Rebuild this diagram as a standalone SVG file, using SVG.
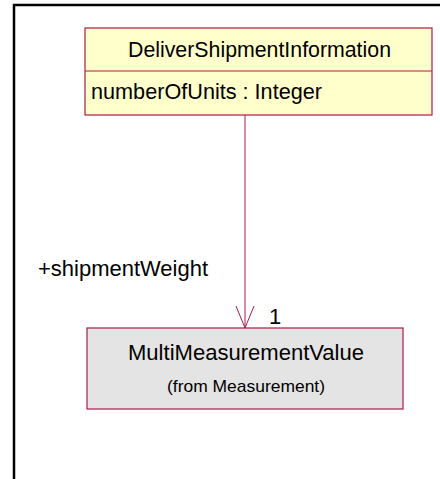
<svg xmlns="http://www.w3.org/2000/svg" width="440" height="479" viewBox="0 0 440 479">
<style>
.frame{stroke:#000;stroke-width:2.5;fill:none}
.cls{stroke:#b0184c;stroke-width:1.2}
.t{font-family:"Liberation Sans",Arial,sans-serif;fill:#000}
.conn{stroke:#b0184c;stroke-width:1;fill:none}
</style>
<rect width="440" height="479" fill="#fff"/>
<path class="frame" d="M14,479 V5 H440"/>
<g id="DeliverShipmentInformation">
<rect class="cls" x="85" y="28" width="347" height="87" fill="#ffffcc"/>
<line class="cls" x1="85" y1="71" x2="432" y2="71"/>
<text class="t" x="259.5" y="57" font-size="21.5" text-anchor="middle" textLength="263" lengthAdjust="spacingAndGlyphs">DeliverShipmentInformation</text>
<text class="t" x="91" y="99" font-size="21.5" textLength="231" lengthAdjust="spacingAndGlyphs">numberOfUnits : Integer</text>
</g>
<g id="MultiMeasurementValue">
<rect class="cls" x="87" y="328" width="316" height="81" fill="#e4e4e4"/>
<text class="t" x="246" y="360" font-size="22" text-anchor="middle" textLength="236" lengthAdjust="spacingAndGlyphs">MultiMeasurementValue</text>
<text class="t" x="246" y="392" font-size="17" text-anchor="middle" textLength="158" lengthAdjust="spacingAndGlyphs">(from Measurement)</text>
</g>
<g id="connectors">
<line class="conn" x1="245" y1="115" x2="245" y2="328"/>
<polyline class="conn" points="236,306 245,328 254,306"/>
<text class="t" x="38" y="276" font-size="21.5" textLength="170" lengthAdjust="spacingAndGlyphs">+shipmentWeight</text>
<text class="t" x="269" y="324" font-size="22">1</text>
</g>
</svg>
